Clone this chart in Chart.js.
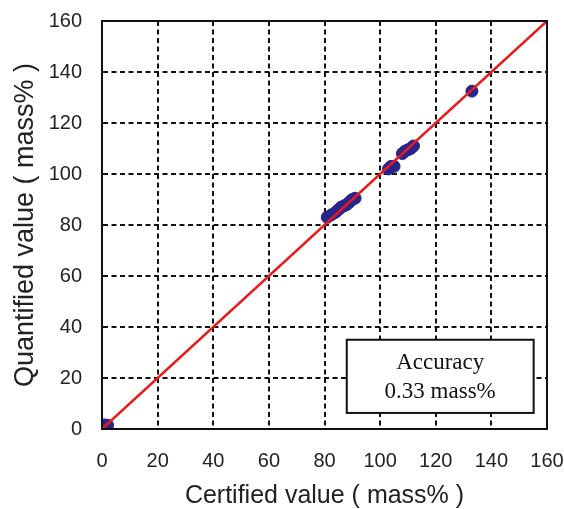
<!DOCTYPE html>
<html>
<head>
<meta charset="utf-8">
<script src="https://cdn.jsdelivr.net/npm/chart.js@4/dist/chart.umd.min.js"></script>
<style>
  html, body { margin: 0; padding: 0; background: #fff; }
  #wrap { width: 564px; height: 509px; }
</style>
</head>
<body>
<div id="wrap"><canvas id="myChart"></canvas></div>
<script>
// certified vs quantified values (mass%)
var certified = [0.5, 1, 1.5, 2, 0.8, 81, 82.5, 84, 85, 86, 87, 88, 89, 90, 91, 103, 104, 105, 108, 109, 110, 111, 112, 133];
var quantified = [0.3, 0.8, 1.2, 1.5, 1.6, 83, 84, 85, 86, 87, 87.5, 88, 89, 90, 90.5, 102, 103, 103, 108, 109, 109.5, 110, 111, 132.5];
var lineX = [0, 160];
var lineY = [0, 160];
var tickValues = [0, 20, 40, 60, 80, 100, 120, 140, 160];
var boxLines = ['Accuracy', '0.33 mass%'];

var points = [];
for (var i = 0; i < certified.length; i++) {
	points.push({x: certified[i], y: quantified[i]});
}
var linePts = [];
for (var j = 0; j < lineX.length; j++) {
	linePts.push({x: lineX[j], y: lineY[j]});
}

// frame round the plot + accuracy box
var framePlugin = {
	id: 'frame',
	afterDatasetsDraw: function(chart) {
		var ctx = chart.ctx;
		var a = chart.chartArea;
		var xs = chart.scales.x, ys = chart.scales.y;
		ctx.save();
		ctx.strokeStyle = '#111';
		ctx.lineWidth = 2;
		ctx.strokeRect(a.left, a.top, a.right - a.left, a.bottom - a.top);

		var bx1 = xs.getPixelForValue(88), bx2 = xs.getPixelForValue(155.2);
		var by1 = ys.getPixelForValue(35), by2 = ys.getPixelForValue(6.3);
		ctx.fillStyle = '#fff';
		ctx.fillRect(bx1, by1, bx2 - bx1, by2 - by1);
		ctx.strokeRect(bx1, by1, bx2 - bx1, by2 - by1);
		ctx.fillStyle = '#111';
		ctx.font = '23px "Liberation Serif", "Times New Roman", serif';
		ctx.textAlign = 'center';
		ctx.textBaseline = 'middle';
		var cx = (bx1 + bx2) / 2;
		ctx.fillText(boxLines[0], cx, by1 + 23);
		ctx.fillText(boxLines[1], cx, by1 + 52);
		ctx.restore();
	}
};

function noPad(s) {
	s.paddingTop = 0; s.paddingBottom = 0;
	s.paddingLeft = 0; s.paddingRight = 0;
}

var ctx = document.getElementById('myChart').getContext('2d');
var chart = new Chart(ctx, {
	type: 'scatter',
	data: {
		datasets: [{
			label: 'Fit',
			data: linePts,
			showLine: true,
			borderColor: 'rgb(235, 25, 25)',
			borderWidth: 2.5,
			pointRadius: 0,
			order: 0
		}, {
			label: 'Samples',
			data: points,
			backgroundColor: 'rgb(38, 38, 140)',
			borderColor: 'rgb(38, 38, 140)',
			pointRadius: 6,
			order: 1
		}]
	},
	plugins: [framePlugin],
	options: {
		responsive: true,
		maintainAspectRatio: false,
		animation: false,
		layout: { padding: { left: 3, right: 17, top: 21, bottom: 0 } },
		plugins: {
			legend: { display: false },
			tooltip: { enabled: false }
		},
		scales: {
			x: {
				type: 'linear',
				min: 0, max: 160,
				afterBuildTicks: function(s) { s.ticks = tickValues.map(function(v) { return {value: v}; }); },
				afterFit: function(s) { s.height = 80; noPad(s); },
				grid: { color: '#111', lineWidth: 2, drawTicks: false },
				border: { display: true, color: '#111', width: 2, dash: [5, 3.5] },
				ticks: { color: '#222', padding: 20, font: { family: 'Arial, "Liberation Sans"', size: 20 }, maxRotation: 0 },
				title: { display: true, text: 'Certified value ( mass% )', color: '#222', padding: 0,
					font: { family: 'Arial, "Liberation Sans"', size: 25, lineHeight: 1 } }
			},
			y: {
				type: 'linear',
				min: 0, max: 160,
				afterBuildTicks: function(s) { s.ticks = tickValues.map(function(v) { return {value: v}; }); },
				afterFit: function(s) { s.width = 99; noPad(s); },
				grid: { color: '#111', lineWidth: 2, drawTicks: false },
				border: { display: true, color: '#111', width: 2, dash: [5, 3.5] },
				ticks: { color: '#222', padding: 20, font: { family: 'Arial, "Liberation Sans"', size: 20 } },
				title: { display: true, text: 'Quantified value ( mass% )', color: '#222', padding: { top: 6 },
					font: { family: 'Arial, "Liberation Sans"', size: 27, lineHeight: 1.2 } }
			}
		}
	}
});
</script>
</body>
</html>
